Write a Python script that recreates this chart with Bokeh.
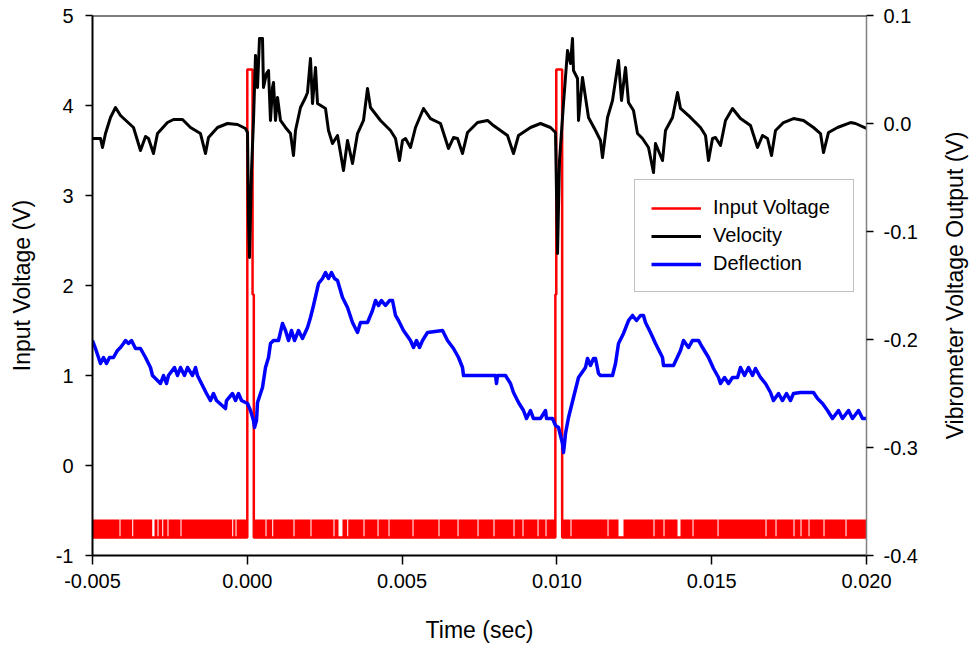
import math
from bokeh.plotting import figure
from bokeh.models import (Range1d, LinearAxis, FixedTicker, PrintfTickFormatter,
                          Legend, LegendItem, Span, Label)
from bokeh.embed import file_html
from bokeh.resources import INLINE

# ---------------- data ----------------
# Velocity (right axis), time in ms, value in mV
vel_t_ms = [-5.000, -4.742, -4.677, -4.580, -4.419, -4.257, -4.096, -3.676, -3.450, -3.288,
            -3.191, -3.030, -2.901, -2.578, -2.384, -2.093, -1.835, -1.512, -1.350, -1.253,
            -0.962, -0.640, -0.317, -0.058, 0.007, 0.039, 0.071, 0.136, 0.200, 0.265,
            0.330, 0.394, 0.491, 0.523, 0.620, 0.685, 0.749, 0.814, 0.846, 0.911,
            0.976, 1.072, 1.234, 1.395, 1.492, 1.557, 1.718, 1.880, 1.945, 2.041,
            2.106, 2.203, 2.268, 2.526, 2.623, 2.752, 2.914, 3.107, 3.237, 3.398,
            3.560, 3.753, 3.883, 3.979, 4.302, 4.625, 4.787, 4.916, 5.013, 5.110,
            5.271, 5.433, 5.691, 5.917, 6.240, 6.499, 6.660, 6.790, 6.951, 7.113,
            7.436, 7.759, 7.952, 8.178, 8.404, 8.598, 8.760, 9.147, 9.470, 9.793,
            9.955, 10.020, 10.084, 10.213, 10.343, 10.439, 10.504, 10.536, 10.666, 10.698,
            10.827, 10.924, 11.021, 11.247, 11.408, 11.473, 11.635, 11.796, 11.990, 12.087,
            12.216, 12.313, 12.474, 12.604, 12.765, 12.959, 13.120, 13.185, 13.411, 13.508,
            13.734, 13.896, 13.992, 14.315, 14.638, 14.800, 14.897, 15.026, 15.123, 15.284,
            15.446, 15.672, 15.930, 16.253, 16.480, 16.641, 16.803, 16.932, 17.061, 17.320,
            17.642, 17.965, 18.288, 18.514, 18.611, 18.773, 19.064, 19.483, 19.645, 20.000]
vel_mv = [-13.9, -13.9, -22.2, -9.3, 5.6, 14.8, 7.4, -3.7, -25.0, -12.0,
          -13.9, -27.8, -9.3, 0.9, 3.7, 3.7, -3.7, -9.3, -27.8, -13.0,
          -3.7, 0.0, -0.9, -4.6, -8.3, -89.8, -124.1, -43.5, 2.8, 63.0,
          33.3, 78.7, 78.7, 33.3, 46.3, 49.1, 2.8, 33.3, 38.0, 2.8,
          24.1, 2.8, -3.7, -9.3, -29.6, -6.5, 14.8, 24.1, 28.7, 60.2,
          18.5, 51.9, 18.5, 13.9, -6.5, -18.5, -11.1, -43.5, -15.7, -37.0,
          -9.3, 2.8, 32.4, 14.8, 2.8, -6.5, -13.9, -34.3, -15.7, -13.9,
          -22.2, -3.7, 13.9, 4.6, 0.0, -23.1, -13.0, -13.9, -27.8, -8.3,
          0.9, 2.8, -1.9, -6.5, -11.1, -27.8, -11.1, -3.7, 0.0, -3.7,
          -8.3, -120.4, -34.3, 18.5, 67.6, 55.6, 78.7, 49.1, 41.7, 2.8,
          42.6, 24.1, 5.6, -6.5, -15.7, -31.5, 5.6, 21.3, 58.3, 21.3,
          51.9, 19.4, 12.0, -9.3, -13.9, -22.2, -45.4, -18.5, -34.3, -6.5,
          5.6, 28.7, 13.9, 5.6, -3.7, -11.1, -34.3, -13.9, -13.0, -20.4,
          2.8, 13.9, 4.6, -1.9, -22.2, -11.1, -13.9, -29.6, -6.5, 0.9,
          4.6, 2.8, -3.7, -9.3, -26.9, -8.3, -3.7, 0.9, 0.0, -4.6]

# Deflection (left axis), time in ms, value in V
defl_t_ms = [-5.000, -4.903, -4.806, -4.742, -4.645, -4.548, -4.451, -4.322, -4.193, -4.096,
             -3.999, -3.934, -3.837, -3.740, -3.611, -3.450, -3.288, -3.127, -3.062, -2.804,
             -2.707, -2.610, -2.546, -2.352, -2.255, -2.158, -2.028, -1.932, -1.770, -1.673,
             -1.609, -1.480, -1.318, -1.189, -1.092, -0.995, -0.704, -0.672, -0.478, -0.381,
             -0.284, -0.187, 0.007, 0.103, 0.200, 0.233, 0.297, 0.330, 0.491, 0.588,
             0.685, 0.749, 0.846, 1.008, 1.137, 1.234, 1.331, 1.428, 1.525, 1.654,
             1.783, 1.945, 2.041, 2.138, 2.300, 2.429, 2.526, 2.623, 2.720, 2.817,
             2.914, 3.075, 3.237, 3.398, 3.527, 3.560, 3.656, 3.883, 4.044, 4.141,
             4.238, 4.335, 4.464, 4.593, 4.690, 4.787, 4.884, 5.045, 5.271, 5.368,
             5.465, 5.562, 5.659, 5.821, 6.305, 6.467, 6.660, 6.822, 6.951, 6.983,
             8.017, 8.049, 8.082, 8.340, 8.501, 8.598, 8.760, 8.921, 9.018, 9.147,
             9.244, 9.470, 9.632, 9.664, 9.858, 9.955, 10.052, 10.116, 10.181, 10.213,
             10.246, 10.278, 10.375, 10.536, 10.698, 10.924, 10.989, 11.085, 11.182, 11.247,
             11.344, 11.408, 11.796, 11.893, 11.990, 12.151, 12.313, 12.442, 12.571, 12.700,
             12.797, 12.862, 13.023, 13.185, 13.411, 13.443, 13.766, 13.992, 14.089, 14.251,
             14.380, 14.574, 14.703, 14.897, 15.058, 15.220, 15.284, 15.414, 15.543, 15.672,
             15.834, 15.930, 16.060, 16.189, 16.318, 16.415, 16.576, 16.738, 16.899, 16.996,
             17.158, 17.287, 17.416, 17.545, 17.642, 17.868, 17.901, 18.288, 18.418, 18.579,
             18.741, 18.902, 19.096, 19.225, 19.419, 19.548, 19.742, 19.871, 20.000]
defl_v = [1.389, 1.300, 1.200, 1.133, 1.200, 1.133, 1.200, 1.200, 1.278, 1.311,
          1.356, 1.389, 1.356, 1.389, 1.300, 1.300, 1.200, 1.089, 1.000, 0.911,
          1.000, 0.911, 1.000, 1.089, 1.000, 1.089, 1.000, 1.089, 1.000, 1.089,
          1.000, 0.911, 0.800, 0.722, 0.800, 0.722, 0.633, 0.722, 0.800, 0.722,
          0.800, 0.722, 0.689, 0.611, 0.500, 0.422, 0.500, 0.700, 0.867, 1.089,
          1.200, 1.356, 1.389, 1.389, 1.578, 1.500, 1.389, 1.500, 1.389, 1.500,
          1.411, 1.533, 1.644, 1.778, 2.022, 2.078, 2.144, 2.078, 2.144, 2.078,
          2.056, 1.867, 1.756, 1.589, 1.500, 1.478, 1.589, 1.589, 1.722, 1.833,
          1.778, 1.833, 1.778, 1.833, 1.833, 1.667, 1.611, 1.500, 1.389, 1.311,
          1.389, 1.311, 1.389, 1.478, 1.500, 1.389, 1.300, 1.200, 1.089, 1.000,
          1.000, 0.911, 1.000, 1.000, 0.911, 0.811, 0.700, 0.611, 0.522, 0.611,
          0.522, 0.522, 0.611, 0.522, 0.522, 0.444, 0.422, 0.333, 0.244, 0.144,
          0.244, 0.356, 0.533, 0.756, 0.978, 1.089, 1.189, 1.111, 1.189, 1.189,
          1.022, 1.000, 1.000, 1.133, 1.356, 1.467, 1.611, 1.667, 1.611, 1.667,
          1.667, 1.589, 1.478, 1.356, 1.200, 1.111, 1.111, 1.278, 1.389, 1.311,
          1.389, 1.389, 1.311, 1.200, 1.078, 0.978, 0.911, 0.978, 0.911, 0.978,
          0.978, 1.089, 1.000, 1.089, 1.000, 1.078, 0.978, 0.911, 0.811, 0.722,
          0.800, 0.722, 0.800, 0.722, 0.800, 0.811, 0.811, 0.811, 0.744, 0.689,
          0.611, 0.522, 0.611, 0.522, 0.611, 0.522, 0.611, 0.522, 0.522]

# Input voltage (left axis): pulse train, time in ms, value in V
inp_t_ms = [-5.000, 0.000, 0.000, 0.170, 0.170, 0.210, 0.210, 9.950, 9.950, 9.980, 9.980, 10.170, 10.170, 20.000]
inp_v = [-0.8, -0.8, 4.4, 4.4, 1.9, 1.9, -0.8, -0.8, 1.9, 1.9, 4.4, 4.4, -0.8, -0.8]
# base-line noise band of the input (toggles between these levels)
noise_lo, noise_hi = -0.8, -0.6
# stretches (ms) where the base stays at the low level (white notches in the band)
gap_start_ms = [-4.128, -3.718, -3.072, -2.900, -2.749, -2.578, -2.158, -0.488, -0.381, 0.588,
                0.804, 1.492, 2.041, 2.784, 2.946, 3.227, 3.753, 4.206, 4.561, 5.336,
                6.176, 6.790, 7.436, 7.952, 8.598, 8.889, 9.374, 9.632, 10.439, 11.635,
                11.990, 13.120, 13.443, 13.896, 14.380, 15.188, 16.738, 17.061, 17.642, 17.868,
                18.127, 18.611, 19.322]
gap_end_ms = [-4.095, -3.685, -2.997, -2.867, -2.716, -2.545, -2.125, -0.455, -0.348, 0.621,
              0.837, 1.525, 2.074, 2.817, 3.075, 3.260, 3.786, 4.239, 4.594, 5.369,
              6.209, 6.823, 7.469, 7.985, 8.631, 8.922, 9.407, 9.665, 10.472, 11.668,
              12.151, 13.153, 13.476, 13.992, 14.413, 15.221, 16.771, 17.094, 17.675, 17.901,
              18.160, 18.644, 19.355]
# pulse intervals (ms) where no band is drawn
pulse_start_ms = [0.000, 9.950]
pulse_end_ms = [0.210, 10.170]

x_ticks = [-0.005, 0.000, 0.005, 0.010, 0.015, 0.020]
left_ticks = [-1, 0, 1, 2, 3, 4, 5]
right_ticks = [-0.4, -0.3, -0.2, -0.1, 0.0, 0.1]

assert len(vel_t_ms) == len(vel_mv)
assert len(defl_t_ms) == len(defl_v)

# ---------------- figure ----------------
FONT = "Liberation Sans"
p = figure(width=971, height=647, output_backend="svg", toolbar_location=None,
           x_range=Range1d(-0.005, 0.020), y_range=Range1d(-1, 5),
           min_border_left=92, min_border_right=105, min_border_top=15, min_border_bottom=92)
p.extra_y_ranges = {"vib": Range1d(-0.4, 0.1)}
p.xgrid.visible = False
p.ygrid.visible = False
p.outline_line_color = None
p.background_fill_color = "white"
p.border_fill_color = "white"

# red base band, built from the band limits minus gaps and pulses
cuts = sorted(list(zip(gap_start_ms, gap_end_ms)) + list(zip(pulse_start_ms, pulse_end_ms)))
lefts, rights = [], []
cur = -5.0
for a, b in cuts:
    if a > cur:
        lefts.append(cur)
        rights.append(a)
    cur = max(cur, b)
if cur < 20.0:
    lefts.append(cur)
    rights.append(20.0)
p.quad(left=[v * 1e-3 for v in lefts], right=[v * 1e-3 for v in rights],
       bottom=noise_lo, top=noise_hi, fill_color="#ff0000", line_color=None)

red_r = p.line([t * 1e-3 for t in inp_t_ms], inp_v, line_color="#ff0000", line_width=2.5)
blue_r = p.line([t * 1e-3 for t in defl_t_ms], defl_v, line_color="#0000ff", line_width=3.5,
                line_join="round")
black_r = p.line([t * 1e-3 for t in vel_t_ms], [v * 1e-3 for v in vel_mv], y_range_name="vib",
                 line_color="black", line_width=3, line_join="round")

p.add_layout(Span(location=5, dimension="width", line_color="black", line_width=2))

# axes
xa = p.xaxis[0]
xa.ticker = FixedTicker(ticks=x_ticks)
xa.formatter = PrintfTickFormatter(format="%.3f")
xa.axis_label = "Time (sec)"
ya = p.yaxis[0]
ya.ticker = FixedTicker(ticks=left_ticks)
ya.formatter = PrintfTickFormatter(format="%d")
ya.axis_label = "Input Voltage (V)"

ra = LinearAxis(y_range_name="vib", ticker=FixedTicker(ticks=right_ticks),
                formatter=PrintfTickFormatter(format="%.1f"))
p.add_layout(ra, "right")

for ax in (xa, ya, ra):
    ax.major_tick_in = 0
    ax.major_tick_out = 7
    ax.minor_tick_in = 0
    ax.minor_tick_out = 0
    ax.major_tick_line_width = 1.5
    ax.axis_line_width = 2
    ax.major_label_text_font = FONT
    ax.major_label_text_font_size = "20px"
    ax.major_label_text_color = "black"
    ax.axis_label_text_font = FONT
    ax.axis_label_text_font_size = "23px"
    ax.axis_label_text_font_style = "normal"
    ax.axis_label_text_color = "black"
xa.major_tick_out = 9
xa.major_label_standoff = 9
xa.axis_label_standoff = 26
ya.major_label_standoff = 12
ya.axis_label_standoff = 18
ra.major_label_standoff = 10
ra.axis_line_color = "#808080"
ra.axis_line_width = 1.5

# right-hand axis title, reading bottom-to-top like the left one (placed in the right panel)
right_title = Label(x=34, y=270, x_units="screen", y_units="screen",
                    text="Vibrometer Voltage Output (V)", angle=math.pi / 2,
                    text_align="center", text_baseline="middle",
                    text_font=FONT, text_font_size="23px", text_color="black")
p.add_layout(right_title, "right")

legend = Legend(items=[LegendItem(label="Input Voltage", renderers=[red_r]),
                       LegendItem(label="Velocity", renderers=[black_r]),
                       LegendItem(label="Deflection", renderers=[blue_r])],
                location=(542, 263))
legend.border_line_color = "#808080"
legend.border_line_width = 1.5
legend.padding = 16
legend.spacing = 5
legend.margin = 0
legend.glyph_width = 50
legend.glyph_height = 22
legend.label_height = 22
legend.label_width = 124
legend.label_standoff = 12
legend.label_text_font = FONT
legend.label_text_font_size = "20px"
legend.label_text_color = "black"
legend.background_fill_color = "white"
legend.background_fill_alpha = 1.0
p.add_layout(legend, "center")

open("out.html", "w").write(file_html(p, INLINE))
